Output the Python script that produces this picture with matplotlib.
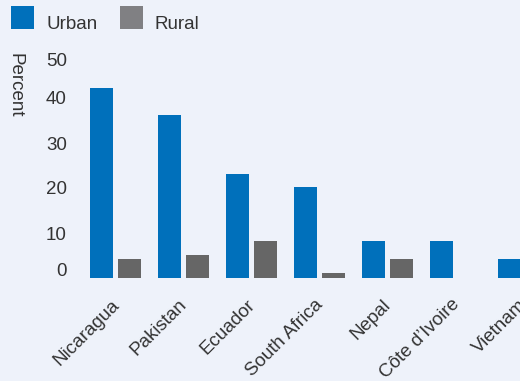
import numpy as np
import matplotlib
matplotlib.use("Agg")
import matplotlib.pyplot as plt
from matplotlib.patches import Rectangle
from matplotlib.transforms import ScaledTranslation

# Share of population, by country and area
countries = ["Nicaragua", "Pakistan", "Ecuador", "South Africa", "Nepal",
             "Côte d’Ivoire", "Vietnam"]
urban = [42.2, 36.2, 23.1, 20.2, 8.2, 8.2, 4.2]
rural = [4.2, 5.1, 8.2, 1.1, 4.2, np.nan, np.nan]
y_ticks = [0, 10, 20, 30, 40, 50]
series_names = ["Urban", "Rural"]

BG = "#eef2fa"
BLUE = "#0070bb"
GRAY_BAR = "#666666"
GRAY_KEY = "#808083"
TEXT = "#333333"
FS = 13.5

plt.rcParams["font.family"] = ["Liberation Sans", "DejaVu Sans"]

W, H = 520, 381
fig = plt.figure(figsize=(W / 100, H / 100), dpi=100, facecolor=BG)
ax = fig.add_axes([81.5 / W, 103 / H, 476 / W, 225 / H])
ax.set_facecolor(BG)

x = np.arange(len(countries))
off = 14 / 68
bw = 23 / 68
ax.bar(x - off, urban, width=bw, color=BLUE, linewidth=0)
ax.bar(x + off, rural, width=bw, color=GRAY_BAR, linewidth=0)

ax.set_xlim(-0.5, len(countries) - 0.5)
ax.set_ylim(0, 50)

for s in ax.spines.values():
    s.set_visible(False)

ax.set_yticks(y_ticks)
ax.set_yticklabels([str(v) for v in y_ticks])
ax.tick_params(axis="y", length=0, pad=10.5, labelsize=FS, labelcolor=TEXT)
ax.set_xticks(x)
ax.set_xticklabels(countries, rotation=45, ha="right", rotation_mode="anchor")
ax.tick_params(axis="x", length=0, pad=8, labelsize=FS, labelcolor=TEXT)

# shift the category labels a little down and to the left
shift_x = ScaledTranslation(-5 / 100, -7 / 100, fig.dpi_scale_trans)
for lab in ax.get_xticklabels():
    lab.set_transform(lab.get_transform() + shift_x)

# nudge the end labels of the value axis inward
labels = ax.get_yticklabels()
labels[0].set_transform(labels[0].get_transform()
                        + ScaledTranslation(0, 8 / 100, fig.dpi_scale_trans))
labels[-1].set_transform(labels[-1].get_transform()
                         + ScaledTranslation(0, -6 / 100, fig.dpi_scale_trans))

fig.text(15 / W, 1 - 85 / H, "Percent", rotation=270, ha="center",
         va="center", fontsize=FS, color=TEXT)

# key
for (px, col, tx, name) in [(11, BLUE, 46, series_names[0]),
                            (120, GRAY_KEY, 155, series_names[1])]:
    fig.add_artist(Rectangle((px / W, 1 - 29 / H), 23 / W, 23 / H,
                             transform=fig.transFigure, color=col, lw=0))
    fig.text(tx / W, 1 - 29 / H, name, ha="left", va="baseline",
             fontsize=FS, color=TEXT)

fig.savefig("out.png", dpi=100, facecolor=BG)
